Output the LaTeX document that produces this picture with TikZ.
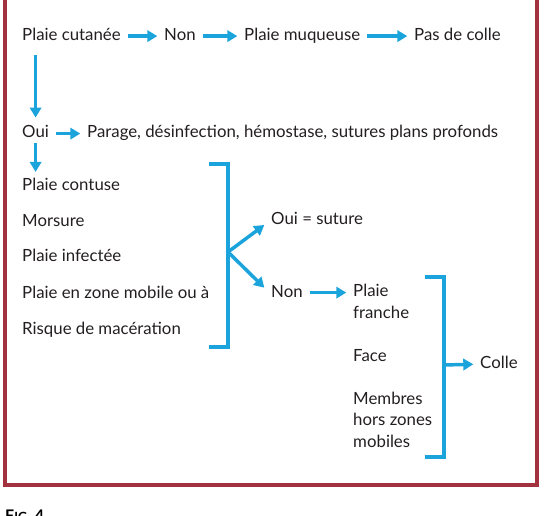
\documentclass[tikz,border=0pt]{standalone}
\usepackage{fontspec}
\setmainfont{Lato}
\usetikzlibrary{arrows.meta}
\definecolor{framered}{HTML}{A3323F}
\definecolor{arrowblue}{HTML}{1BA3DB}
\definecolor{textgray}{HTML}{231F20}

\begin{document}
\begin{tikzpicture}[x=0.75pt, y=-0.75pt,
    txt/.style={anchor=base west, inner xsep=5pt, inner ysep=2pt, text=textgray,
                font=\fontsize{12.6}{16}\selectfont},
    one/.style={txt, text height=1.6ex, text depth=0.3ex},
    many/.style={txt, align=left},
    arr/.style={arrowblue, line width=2.6pt, -{Triangle[length=7.5pt, width=8.5pt]}},
    brk/.style={arrowblue, line width=2.4pt}]
  \useasboundingbox (0,0) rectangle (545,516);
  % the box
  \draw[framered, line width=2.4pt] (5,-10) rectangle (537,485);
  % first row
  \node[one] (cut) at (15.3,40.5) {Plaie cutanée};
  \node[one] (non1) at (157.3,40.5) {Non};
  \node[one] (muq) at (237.3,40.5) {Plaie muqueuse};
  \node[one] (pas) at (407.3,40.5) {Pas de colle};
  \draw[arr] (cut) -- (non1);
  \draw[arr] (non1) -- (muq);
  \draw[arr] (muq) -- (pas);
  % second row
  \node[one] (oui) at (15.3,138) {Oui};
  \node[one] (par) at (80.3,138) {Parage, désinfection, hémostase, sutures plans profonds};
  \draw[arr, shorten <=7pt, shorten >=5pt] (oui.north |- cut.south) -- (oui.north);
  \draw[arr] (oui) -- (par);
  % list of wounds
  \node[one] (con) at (15.3,191) {Plaie contuse};
  \node[one] (mor) at (15.3,227) {Morsure};
  \node[one] (inf) at (15.3,262) {Plaie infectée};
  \node[one] (mob) at (15.3,298) {Plaie en zone mobile ou à};
  \node[one] (mac) at (15.3,334) {Risque de macération};
  \draw[arr, shorten >=4pt] (oui.south) -- (oui.south |- con.north);
  \draw[brk] (209,164) -| (228,347) -- (209,347);
  \coordinate (b1) at (228,252);
  % suture or not
  \node[one] (sut) at (264.3,225) {Oui = suture};
  \node[one] (non2) at (264.3,297) {Non};
  \draw[arr] (b1) -- (sut.base west);
  \draw[arr] (b1) -- ([yshift=7pt]non2.base west);
  % glue (base = last line)
  \node[many] (pf) at (346.3,318) {Plaie\\franche};
  \node[one] (face) at (346.3,361) {Face};
  \node[many] (mem) at (346.3,447) {Membres\\hors zones\\mobiles};
  \draw[arr] (non2) -- (non2 -| pf.west);
  \draw[brk] (425,277) -| (444,457) -- (425,457);
  \coordinate (b2) at (444,365);
  \node[one] (colle) at (473.3,368) {Colle};
  \draw[arr] (b2) -- (colle);
  % caption
  \node[txt, text=black, font=\bfseries\fontsize{12}{12}\selectfont] (fig) at (-1.7,521)
    {F{\fontsize{9.5}{9.5}\selectfont IG}. 4};
\end{tikzpicture}
\end{document}
